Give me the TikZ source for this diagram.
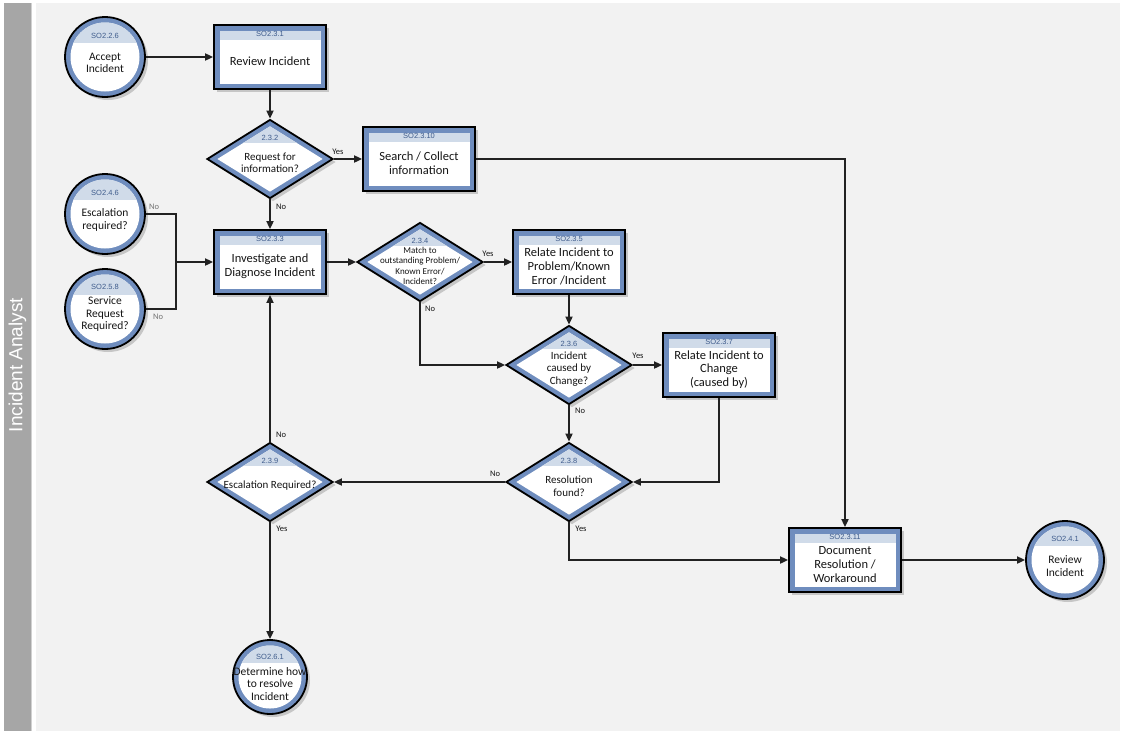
\documentclass[tikz,border=0pt]{standalone}
\usepackage{fontspec}
\setmainfont{Carlito}
\newfontfamily\codefont{Liberation Sans}
\usetikzlibrary{shapes.geometric,shadows,arrows.meta,calc}
\definecolor{bgc}{HTML}{F2F2F2}
\definecolor{lanec}{HTML}{A6A6A6}
\definecolor{ringc}{HTML}{6F8DBE}
\definecolor{bandc}{HTML}{D0DBE9}
\definecolor{codec}{HTML}{3F5C8C}
\definecolor{linec}{HTML}{222222}
\definecolor{txtc}{HTML}{151515}
\tikzset{
  myshadow/.style={drop shadow={shadow xshift=3pt, shadow yshift=-3pt, fill=black, opacity=0.18}},
  procbox/.style={rectangle, draw=black, line width=1.8pt, fill=ringc, minimum width=112pt, minimum height=64pt, inner sep=0pt, myshadow,
    path picture={
      \fill[white] ($(path picture bounding box.south west)+(5.5pt,5.5pt)$) rectangle ($(path picture bounding box.north east)+(-5.5pt,-5.5pt)$);
      \fill[bandc] ($(path picture bounding box.north west)+(5.5pt,-5.5pt)$) rectangle ($(path picture bounding box.north east)+(-5.5pt,-15pt)$);
    }},
  circ/.style={circle, draw=black, line width=1.8pt, fill=ringc, minimum size={2*#1pt}, inner sep=0pt, myshadow,
    path picture={
      \fill[white] (path picture bounding box.center) circle[radius={#1pt-5.5pt}];
      \begin{scope}
        \clip (path picture bounding box.center) circle[radius={#1pt-5.5pt}];
        \fill[bandc] (path picture bounding box.north west) rectangle ($(path picture bounding box.east)+(0pt,14pt)$);
      \end{scope}
    }},
  dia/.style={diamond, draw=black, line width=1.8pt, fill=ringc, minimum width=126pt, minimum height=79pt, inner sep=0pt, myshadow,
    path picture={
      \fill[white] ($(path picture bounding box.north)+(0pt,-6.5pt)$) -- ($(path picture bounding box.east)+(-10pt,0pt)$) -- ($(path picture bounding box.south)+(0pt,6.5pt)$) -- ($(path picture bounding box.west)+(10pt,0pt)$) -- cycle;
      \begin{scope}
        \clip ($(path picture bounding box.north)+(0pt,-6.5pt)$) -- ($(path picture bounding box.east)+(-10pt,0pt)$) -- ($(path picture bounding box.south)+(0pt,6.5pt)$) -- ($(path picture bounding box.west)+(10pt,0pt)$) -- cycle;
        \fill[bandc] (path picture bounding box.north west) rectangle ($(path picture bounding box.east)+(0pt,16pt)$);
      \end{scope}
    }},
  codelbl/.style={inner sep=0pt, text=codec, font=\codefont\fontsize{7.5}{8}\selectfont},
  boxtxt/.style={inner sep=0pt, align=center, text=txtc, font=\fontsize{12.5}{13.8}\selectfont},
  circtxt/.style={inner sep=0pt, align=center, text=txtc, font=\fontsize{11.5}{12.3}\selectfont},
  diatxt/.style={inner sep=0pt, align=center, text=txtc, font=\fontsize{11}{12.5}\selectfont},
  smalltxt/.style={inner sep=0pt, align=center, text=txtc, font=\fontsize{9}{10.3}\selectfont},
  yn/.style={inner sep=0pt, text=txtc, font=\fontsize{8.5}{9}\selectfont},
  yngray/.style={inner sep=0pt, text=black!55, font=\fontsize{8.5}{9}\selectfont},
  conn/.style={draw=linec, line width=1.8pt},
  arr/.style={conn, -{Triangle[length=8pt,width=7pt]}},
}
\newcommand\mkbox[5]{%
  \node[procbox] (#1) at (#2,#3) {};
  \node[codelbl] (#1c) at ($(#1.north)+(0,10)$) {#4};
  \node[boxtxt] (#1t) at ($(#1.center)+(0,4.5)$) {#5};
}
\newcommand\mkcirc[8]{%
  \node[circ=#4] (#1) at (#2,#3) {};
  \node[codelbl] (#1c) at ($(#1.center)+(0,#7)$) {#5};
  \node[circtxt] (#1t) at ($(#1.center)+(0,#8)$) {#6};
}
\newcommand\mkdia[6]{%
  \node[dia] (#1) at (#2,#3) {};
  \node[codelbl] (#1c) at ($(#1.center)+(0,-21)$) {#4};
  \node[#6] (#1t) at ($(#1.center)+(0,4)$) {#5};
}
\begin{document}
\begin{tikzpicture}[x=1pt,y=-1pt]
\useasboundingbox (0,0) rectangle (1123,731);
\fill[white] (0,0) rectangle (1123,731);
\fill[lanec] (4,3) rectangle (31,731);
\fill[black!18] (31,3) rectangle (32,731);
\fill[bgc] (36,3) rectangle (1120,731);
\node[rotate=90, text=white, inner sep=0pt, font=\codefont\fontsize{19}{19}\selectfont] (lane) at (17.5,365) {Incident Analyst};

% shapes
\mkcirc{c1}{105}{57}{40}{SO2.2.6}{Accept\\Incident}{-21}{6}
\mkbox{b1}{270}{57}{SO2.3.1}{Review Incident}
\mkdia{d2}{270}{159}{2.3.2}{Request for\\information?}{diatxt}
\mkbox{b10}{419}{159}{SO2.3.10}{Search / Collect\\information}
\mkcirc{c46}{105}{214}{40}{SO2.4.6}{Escalation\\required?}{-21}{6}
\mkcirc{c58}{105}{309}{40}{SO2.5.8}{Service\\Request\\Required?}{-22}{5}
\mkbox{b3}{270}{262}{SO2.3.3}{Investigate and\\Diagnose Incident}
\mkdia{d4}{420}{262}{2.3.4}{Match to\\outstanding Problem/\\Known Error/\\Incident?}{smalltxt}
\mkbox{b5}{569}{262}{SO2.3.5}{Relate Incident to\\Problem/Known\\Error /Incident}
\mkdia{d6}{569}{365}{2.3.6}{Incident\\caused by\\Change?}{diatxt}
\mkbox{b7}{719}{365}{SO2.3.7}{Relate Incident to\\Change\\(caused by)}
\mkdia{d8}{569}{482}{2.3.8}{Resolution\\found?}{diatxt}
\mkdia{d9}{270}{482}{2.3.9}{Escalation Required?}{diatxt}
\mkbox{b11}{845}{560}{SO2.3.11}{Document\\Resolution /\\Workaround}
\mkcirc{c41}{1065}{560}{39}{SO2.4.1}{Review\\Incident}{-21}{6}
\mkcirc{c61}{270}{677}{37}{SO2.6.1}{Determine how\\to resolve\\Incident}{-20}{7}

% connectors
\draw[arr] (c1.east) -- (b1.west);
\draw[arr] (b1.south) -- (d2.north);
\draw[arr] (d2.east) -- (b10.west);
\draw[arr] (b10.east) -| (b11.north);
\draw[arr] (d2.south) -- (b3.north);
\coordinate (join) at (176,262);
\draw[conn] (c46.east) -| (join);
\draw[conn] (c58.east) -| (join);
\draw[arr] (join) -- (b3.west);
\draw[arr] (b3.east) -- (d4.west);
\draw[arr] (d4.east) -- (b5.west);
\draw[arr] (d4.south) |- (d6.west);
\draw[arr] (b5.south) -- (d6.north);
\draw[arr] (d6.east) -- (b7.west);
\draw[arr] (d6.south) -- (d8.north);
\draw[arr] (b7.south) |- (d8.east);
\draw[arr] (d8.west) -- (d9.east);
\draw[arr] (d8.south) |- (b11.west);
\draw[arr] (d9.north) -- (b3.south);
\draw[arr] (d9.south) -- (c61.north);
\draw[arr] (b11.east) -- (c41.west);

% labels
\node[yn] (l1) at (338,152) {Yes};
\node[yn] (l2) at (281,207) {No};
\node[yngray] (l3) at (154,207) {No};
\node[yngray] (l4) at (158,317) {No};
\node[yn] (l5) at (488,254) {Yes};
\node[yn] (l6) at (430,309) {No};
\node[yn] (l7) at (638,356) {Yes};
\node[yn] (l8) at (580,411) {No};
\node[yn] (l9) at (281,435) {No};
\node[yn] (l10) at (495,474) {No};
\node[yn] (l11) at (282,529) {Yes};
\node[yn] (l12) at (581,529) {Yes};
\end{tikzpicture}
\end{document}
